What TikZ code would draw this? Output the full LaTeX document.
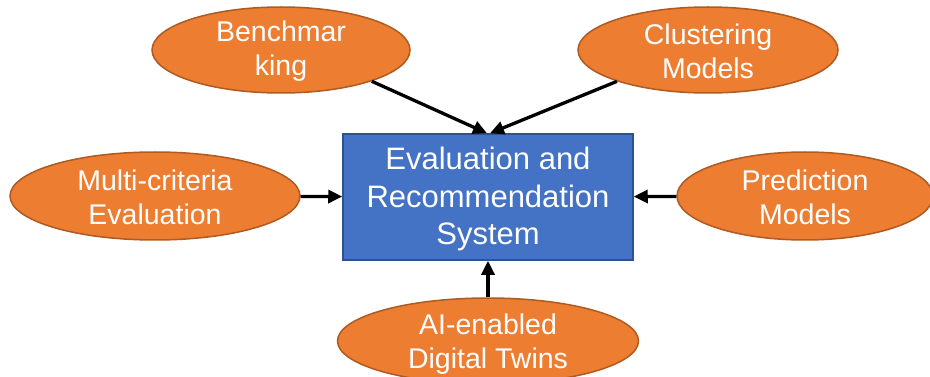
\documentclass[tikz,border=0pt]{standalone}
\usepackage{fontspec}
\setmainfont{Liberation Sans}
\usetikzlibrary{shapes.geometric,arrows.meta}
\definecolor{orfill}{HTML}{ED7D31}
\definecolor{ordraw}{HTML}{AE5A21}
\definecolor{blfill}{HTML}{4472C4}
\definecolor{bldraw}{HTML}{2F528F}
\tikzset{
  oval/.style={ellipse, draw=ordraw, fill=orfill, line width=1.5pt, inner sep=0pt},
  otext/.style={text=white, align=center, font=\fontsize{28.5}{34}\selectfont},
  mainbox/.style={rectangle, draw=bldraw, fill=blfill, line width=1.5pt, inner sep=0pt,
    minimum width=290pt, minimum height=126pt},
  conn/.style={line width=3.3pt, -{Triangle[length=14pt,width=13pt]}}
}
\begin{document}
\begin{tikzpicture}[x=1pt,y=-1pt]
\useasboundingbox (0,0) rectangle (930,377);
\node[mainbox] (box) at (488,197) {};
\node[text=white, align=center, font=\fontsize{31}{37.5}\selectfont] (boxt) at (488,199) {Evaluation and\\Recommendation\\System};

\node[oval, minimum width=258pt, minimum height=86pt] (bm) at (281,50) {};
\node[otext] (bmt) at (281,51) {Benchmar\\king};

\node[oval, minimum width=260pt, minimum height=86pt] (cl) at (708,50) {};
\node[otext] (clt) at (708,51) {Clustering\\Models};

\node[oval, minimum width=290pt, minimum height=88pt] (mc) at (155,196) {};
\node[otext] (mct) at (155,197) {Multi-criteria\\Evaluation};

\node[oval, minimum width=256pt, minimum height=88pt] (pm) at (805,196) {};
\node[otext] (pmt) at (805,197) {Prediction\\Models};

\node[oval, minimum width=301pt, minimum height=86pt] (ai) at (488,341) {};
\node[otext] (ait) at (488,344) {AI-enabled\\Digital Twins};

\draw[conn] (bm.-19) -- ([xshift=-1pt]box.north);
\draw[conn] (cl.-161) -- ([xshift=2pt]box.north);
\draw[conn] (mc) -- (box);
\draw[conn] (pm) -- (box);
\draw[conn] (ai) -- (box);
\end{tikzpicture}
\end{document}
